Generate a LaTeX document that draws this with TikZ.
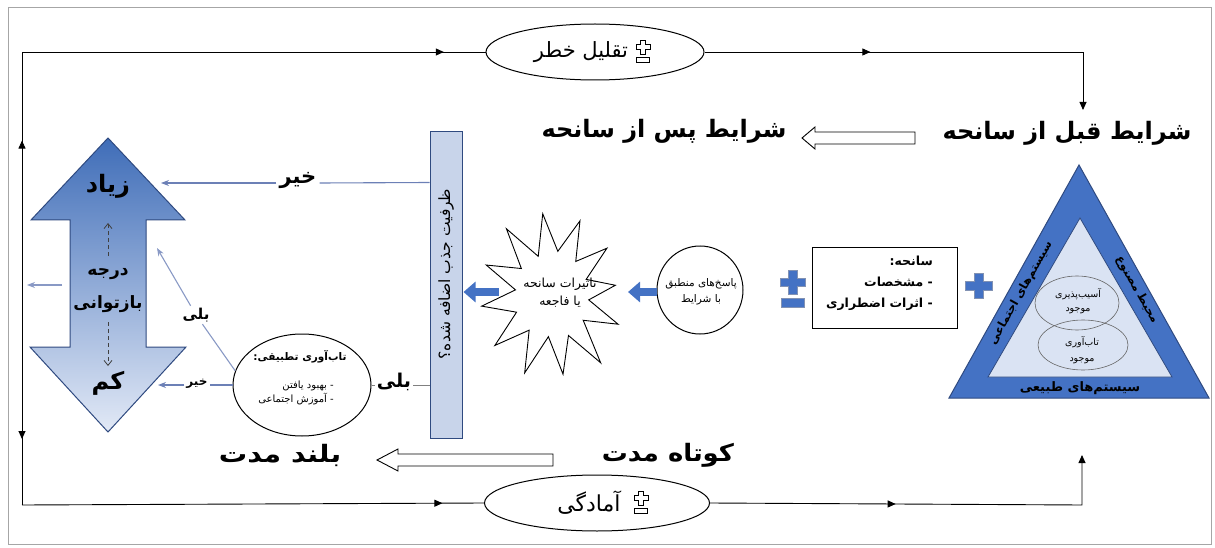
\documentclass[tikz,border=0pt]{standalone}
\usepackage{fontspec}
\newfontfamily\fa[Script=Arabic]{DejaVu Sans}
\TeXXeTstate=1
\usetikzlibrary{arrows.meta,shapes.geometric,decorations.markings,calc}
\definecolor{tblue}{HTML}{4472C4}
\definecolor{tnavy}{HTML}{2F4A80}
\definecolor{tlight}{HTML}{DAE3F3}
\definecolor{barfill}{HTML}{C8D4EA}
\definecolor{gline}{HTML}{6C80B6}
\definecolor{arrtop}{HTML}{3F6DB8}
\definecolor{arrbot}{HTML}{E2E9F6}
\newcommand\RL[1]{\beginR #1\endR}
\begin{document}
\begin{tikzpicture}[x=1pt,y=-1pt,
 blk/.style={draw=black, line width=0.9pt},
 tip/.style={-{Triangle[length=8pt,width=7pt]}},
 marrow/.style={postaction={decorate,decoration={markings,mark=at position #1 with {\arrow{Triangle[length=8pt,width=7pt]}}}}},
 bigtxt/.style={font=\fa\bfseries\fontsize{24}{28}\selectfont, inner sep=2pt},
 midtxt/.style={font=\fa\bfseries\fontsize{16}{19}\selectfont, inner sep=2pt},
 oval/.style={draw=black, line width=1pt, ellipse, inner sep=0pt},
 gb/.style={draw=gline, line width=1.1pt},
 gbtip/.style={-{Stealth[length=8pt,width=6pt]}},
 hollow/.style={draw=black, line width=0.9pt, fill=white},
 bluearr/.style={draw=tblue, line width=8pt, -{Triangle[length=12pt,width=20pt]}},
 bandtxt/.style={font=\fa\bfseries\fontsize{11.5}{13}\selectfont, inner sep=0pt},
 pmsym/.pic={
   \draw[line width=0.8pt, fill=white] (-2.5,-14)--(2.5,-14)--(2.5,-9.5)--(7,-9.5)--(7,-4.5)--(2.5,-4.5)--(2.5,0)--(-2.5,0)--(-2.5,-4.5)--(-7,-4.5)--(-7,-9.5)--(-2.5,-9.5)--cycle;
   \draw[line width=0.8pt] (-6.5,3) rectangle (6.5,8);
 }
]
\useasboundingbox (0,0) rectangle (1215,548);
\draw[gray!70, line width=1pt] (8,8) rectangle (1211,544);

% ---- top and bottom ovals
\node[oval, minimum width=218pt, minimum height=56pt, font=\fa\fontsize{21}{24}\selectfont] (risk) at (595,52) {\RL{تقلیل خطر}\kern28pt};
\pic at ($(risk.center)+(48,2)$) {pmsym};
\node[oval, minimum width=225pt, minimum height=56pt, font=\fa\fontsize{22}{25}\selectfont] (prep) at (597,503) {\RL{آمادگی}\kern16pt};
\pic at ($(prep.center)+(44,2)$) {pmsym};

% ---- loop lines
\coordinate (tl) at (22,52);
\coordinate (lm) at (22,285);
\coordinate (bl) at (22,505);
\coordinate (tr) at (1083,52);
\coordinate (trend) at (1083,110);
\coordinate (br) at (1082,505);
\coordinate (brend) at (1082,455);
\draw[blk, marrow=0.62] (lm) -- (tl);
\draw[blk, marrow=0.70] (lm) -- (bl);
\draw[blk, marrow=0.91] (tl) -- (risk.west);
\draw[blk, marrow=0.38, tip] (risk.east) -- (tr) -- (trend);
\draw[blk, marrow=0.91] (bl) -- (prep.west);
\draw[blk, marrow=0.44, tip] (prep.east) -- (br) -- (brend);

% ---- headings
\node[bigtxt] (pre) at (1067,133) {\RL{شرایط قبل از سانحه}};
\node[bigtxt] (post) at (664,131) {\RL{شرایط پس از سانحه}};
\node[bigtxt, xscale=1.08] (short) at (668,455) {\RL{کوتاه مدت}};
\node[bigtxt, xscale=1.18] (long) at (280,455) {\RL{بلند مدت}};
\draw[hollow] (915,132) -- (815,132) -- (815,127) -- (802,138) -- (815,149) -- (815,144) -- (915,144) -- cycle;
\draw[hollow] (553,454) -- (398,454) -- (398,449) -- (377,460) -- (398,471) -- (398,466) -- (553,466) -- cycle;

% ---- big double arrow
\shade[top color=arrtop, bottom color=arrbot, draw=tnavy, line width=1pt]
  (108,138) -- (185,220) -- (146,220) -- (146,347) -- (186,347) -- (108,432) -- (30,347) -- (70,347) -- (70,220) -- (31,220) -- cycle;
\node[bigtxt] (zyad) at (108,186) {\RL{زیاد}};
\node[midtxt, font=\fa\bfseries\fontsize{17}{20}\selectfont] (darajeh) at (108,274) {\RL{درجه}};
\node[midtxt, font=\fa\bfseries\fontsize{17}{20}\selectfont] (baz) at (108,304) {\RL{بازتوانی}};
\node[bigtxt] (kam) at (108,383) {\RL{کم}};
\coordinate (d1s) at (108,256); \coordinate (d1e) at (108,223);
\coordinate (d2s) at (108,322); \coordinate (d2e) at (108,366);
\draw[draw=black!75, line width=0.8pt, dash pattern=on 4pt off 3pt, -{Straight Barb[length=5pt,width=8pt]}] (d1s) -- (d1e);
\draw[draw=black!75, line width=0.8pt, dash pattern=on 4pt off 3pt, -{Straight Barb[length=5pt,width=8pt]}] (d2s) -- (d2e);
\coordinate (bigl) at (62,285); \coordinate (linel) at (27,285);
\draw[gb, gbtip, draw=gline!80] (bigl) -- (linel);

% ---- vertical bar
\node[draw=tnavy, fill=barfill, line width=1pt, minimum width=32pt, minimum height=306pt, inner sep=0pt] (bar) at (446,285) {};
\node[rotate=90, font=\fa\fontsize{15.5}{18}\selectfont] (bartxt) at (446,274) {\RL{ظرفیت جذب اضافه شده؟}};

% ---- upper "no"
\node[font=\fa\bfseries\fontsize{21}{24}\selectfont, inner sep=3pt] (no1) at (298,181) {\RL{خیر}};
\coordinate (a1) at (161,183);
\draw[gb] ($(bar.north west)+(0,51)$) -- (no1.east |- a1);
\draw[gb, gbtip] (no1.west |- a1) -- (a1);

% ---- adaptive resilience circle
\node[oval, minimum width=138pt, minimum height=102pt] (adapt) at (302,385) {};
\node[font=\fa\bfseries\fontsize{10.5}{13}\selectfont, inner sep=0pt] (adaptT) at (300,357) {\RL{تاب‌آوری تطبیقی:}};
\node[font=\fa\fontsize{10}{14}\selectfont, align=right, inner sep=0pt] (adaptL) at (296,393) {\RL{- بهبود یافتن}\\\RL{- آموزش اجتماعی}};
\node[font=\fa\bfseries\fontsize{12}{14}\selectfont, inner sep=2pt] (no2) at (197,384) {\RL{خیر}};
\coordinate (a2) at (158,385);
\draw[gb] (adapt.west) -- (no2.east |- a2);
\draw[gb, gbtip] (no2.west |- a2) -- (a2);
\node[font=\fa\bfseries\fontsize{15}{17}\selectfont, inner sep=2pt] (yes1) at (196,315) {\RL{بلی}};
\coordinate (a3) at (157,248);
\draw[gb, draw=gline!80] (adapt.168) -- (yes1);
\draw[gb, gbtip, draw=gline!80] (yes1) -- (a3);
\node[font=\fa\bfseries\fontsize{19}{22}\selectfont, inner sep=2pt] (yes2) at (394,382) {\RL{بلی}};
\draw[draw=gray, line width=0.8pt] (adapt.east) -- (yes2.west |- adapt.east);
\draw[draw=gray, line width=0.8pt] (yes2.east |- adapt.east) -- (bar.west |- adapt.east);

% ---- starburst
\begin{scope}[shift={(553,295)}, xscale=0.9, rotate=8]
\draw[blk, fill=white] (0:70) \foreach \a/\r in {15/40, 30/78, 45/42, 60/86, 75/44, 90/80, 105/42, 120/84, 135/44, 150/82, 165/44, 180/80, 195/42, 210/80, 225/44, 240/84, 255/42, 270/82, 285/44, 300/80, 315/42, 330/76, 345/40} { -- (\a:\r) } -- cycle;
\end{scope}
\node[font=\fa\fontsize{12.5}{18}\selectfont, align=center, inner sep=0pt] (impact) at (560,293) {\RL{تاثیرات سانحه}\\\RL{یا فاجعه}};
\coordinate (starW) at (499,292);
\coordinate (starE) at (628,292);
\draw[bluearr, shorten >=1pt] (starW) -- (bar.east |- starW);

% ---- responses ellipse
\node[oval, minimum width=86pt, minimum height=88pt] (resp) at (700,290) {};
\node[font=\fa\fontsize{10.5}{16}\selectfont, align=center, inner sep=0pt] (resptxt) at (701,292) {\RL{پاسخ‌های منطبق}\\\RL{با شرایط}};
\draw[bluearr] (resp.west |- starE) -- (starE);

% ---- blue plus/minus signs
\fill[tblue, draw=tnavy!60, line width=0.5pt] (788,270) -- (797,270) -- (797,278) -- (805,278) -- (805,286) -- (797,286) -- (797,294) -- (788,294) -- (788,286) -- (780,286) -- (780,278) -- (788,278) -- cycle;
\fill[tblue, draw=tnavy!60, line width=0.5pt] (781,298) rectangle (804,307);
\fill[tblue, draw=tnavy!60, line width=0.5pt] (974,273) -- (983,273) -- (983,281) -- (992,281) -- (992,290) -- (983,290) -- (983,298) -- (974,298) -- (974,290) -- (965,290) -- (965,281) -- (974,281) -- cycle;

% ---- disaster box
\node[draw=black, line width=1pt, minimum width=145pt, minimum height=81pt, inner sep=0pt] (dis) at (884.5,287.5) {};
\node[font=\fa\bfseries\fontsize{12.5}{21}\selectfont, align=right, anchor=north east, inner sep=0pt] (distxt) at (933,256) {\RL{سانحه:}\\\RL{- مشخصات}\\\RL{- اثرات اضطراری}};

% ---- triangle
\filldraw[fill=tblue, draw=tnavy, line width=1pt] (1079,165) -- (1209,398) -- (949,398) -- cycle;
\filldraw[fill=tlight, draw=tnavy, line width=0.8pt] (1080,218) -- (1172,377) -- (988,377) -- cycle;
\node[bandtxt, font=\fa\bfseries\fontsize{13}{15}\selectfont] (nat) at (1080,388) {\RL{سیستم‌های طبیعی}};
\node[bandtxt, rotate=-60.5] (built) at (1137,290) {\RL{محیط مصنوع}};
\node[bandtxt, rotate=60.5] (soc) at (1021,293) {\RL{سیستم‌های اجتماعی}};
\node[draw=black!60, line width=0.6pt, ellipse, minimum width=84pt, minimum height=54pt] (vul) at (1077,303) {};
\node[draw=black!60, line width=0.6pt, ellipse, minimum width=90pt, minimum height=50pt] (res) at (1083,345) {};
\node[font=\fa\fontsize{9.5}{14}\selectfont, align=center, inner sep=0pt] (vultxt) at (1078,301) {\RL{آسیب‌پذیری}\\\RL{موجود}};
\node[font=\fa\fontsize{9.5}{16}\selectfont, align=center, inner sep=0pt] (restxt) at (1082,350) {\RL{تاب‌آوری}\\\RL{موجود}};
\end{tikzpicture}
\end{document}
